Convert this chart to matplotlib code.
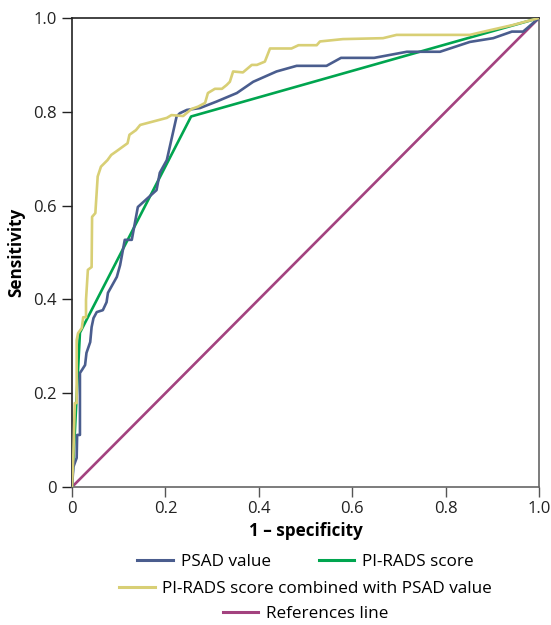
import matplotlib
matplotlib.use("Agg")
import matplotlib.pyplot as plt
from matplotlib.lines import Line2D

plt.rcParams['font.family'] = ['Open Sans', 'DejaVu Sans']

# PSAD value ROC curve
psad_fpr = [0, 0.003, 0.010, 0.011, 0.017, 0.017, 0.021, 0.028, 0.031, 0.039, 0.042, 0.046,
            0.053, 0.066, 0.074, 0.077, 0.096, 0.103, 0.113, 0.128, 0.141, 0.181, 0.188, 0.203,
            0.224, 0.231, 0.246, 0.274, 0.310, 0.353, 0.388, 0.438, 0.481, 0.545, 0.576, 0.647,
            0.717, 0.788, 0.852, 0.902, 0.942, 0.966, 1.0]
psad_tpr = [0, 0.043, 0.062, 0.111, 0.111, 0.243, 0.249, 0.260, 0.286, 0.309, 0.341, 0.360,
            0.373, 0.377, 0.394, 0.414, 0.448, 0.473, 0.527, 0.527, 0.597, 0.633, 0.670, 0.697,
            0.790, 0.797, 0.804, 0.808, 0.822, 0.840, 0.864, 0.886, 0.898, 0.898, 0.915, 0.915,
            0.928, 0.928, 0.949, 0.957, 0.971, 0.971, 1.0]

# PI-RADS score ROC curve
pirads_fpr = [0, 0.017, 0.255, 1.0]
pirads_tpr = [0, 0.329, 0.790, 1.0]

# PI-RADS combined with PSAD ROC curve
comb_fpr = [0, 0.003, 0.006, 0.010, 0.010, 0.013, 0.021, 0.024, 0.030, 0.030, 0.034, 0.042,
            0.043, 0.050, 0.055, 0.062, 0.076, 0.084, 0.094, 0.119, 0.123, 0.137, 0.146, 0.203,
            0.213, 0.238, 0.256, 0.270, 0.285, 0.291, 0.306, 0.321, 0.331, 0.338, 0.345, 0.366,
            0.385, 0.396, 0.413, 0.424, 0.470, 0.485, 0.524, 0.531, 0.580, 0.666, 0.695, 0.852,
            0.895, 0.944, 1.0]
comb_tpr = [0, 0.072, 0.179, 0.179, 0.313, 0.328, 0.339, 0.362, 0.362, 0.399, 0.463, 0.469,
            0.576, 0.584, 0.662, 0.683, 0.697, 0.708, 0.715, 0.733, 0.751, 0.761, 0.772, 0.787,
            0.793, 0.791, 0.806, 0.811, 0.819, 0.840, 0.849, 0.849, 0.857, 0.864, 0.886, 0.884,
            0.900, 0.900, 0.907, 0.935, 0.935, 0.942, 0.942, 0.950, 0.955, 0.957, 0.964, 0.964,
            0.974, 0.985, 1.0]

# Reference line
ref_x = [0, 1]
ref_y = [0, 1]

ticks = [0, 0.2, 0.4, 0.6, 0.8, 1.0]
tick_labels = ["0", "0.2", "0.4", "0.6", "0.8", "1.0"]

c_psad = "#4a5d8e"
c_pirads = "#00a54f"
c_comb = "#d8cf75"
c_ref = "#a3427f"
lw = 1.9

fig = plt.figure(figsize=(5.51, 6.25), dpi=100)
ax = fig.add_axes([72/551, 1-487/625, (539-72)/551, (487-18)/625])

ax.plot(ref_x, ref_y, color=c_ref, lw=lw, zorder=2)
ax.plot(pirads_fpr, pirads_tpr, color=c_pirads, lw=lw, zorder=3)
ax.plot(psad_fpr, psad_tpr, color=c_psad, lw=lw, zorder=4)
ax.plot(comb_fpr, comb_tpr, color=c_comb, lw=lw, zorder=5)

ax.set_xlim(0, 1)
ax.set_ylim(0, 1)
ax.set_xticks(ticks)
ax.set_xticklabels(tick_labels)
ax.set_yticks(ticks)
ax.set_yticklabels(tick_labels)
ax.tick_params(direction='out', length=7, width=1, labelsize=12, colors='#222222', pad=4)
ax.tick_params(axis='x', colors='#555555', labelcolor='#222222', pad=3)
for s in ['left', 'top']:
    ax.spines[s].set_color('#222222')
for s in ['right', 'bottom']:
    ax.spines[s].set_color('#666666')
for s in ax.spines.values():
    s.set_linewidth(1.2)

ax.set_xlabel("1 – specificity", fontsize=12.3, fontweight='bold', labelpad=4)
ax.set_ylabel("Sensitivity", fontsize=12.3, fontweight='bold', labelpad=6)

def mk(c):
    return Line2D([0], [0], color=c, lw=2.2)

common = dict(frameon=False, fontsize=12.3, handlelength=2.1, handletextpad=0.45,
              borderaxespad=0, borderpad=0, loc='center')
cx = ((72+539)/2)/551
leg1 = fig.legend([mk(c_psad), mk(c_pirads)], ["PSAD value", "PI-RADS score"], ncol=2,
                  columnspacing=2.8, bbox_to_anchor=(cx, 1-562/625), **common)
leg2 = fig.legend([mk(c_comb)], ["PI-RADS score combined with PSAD value"],
                  bbox_to_anchor=(cx, 1-589/625), **common)
leg3 = fig.legend([mk(c_ref)], ["References line"],
                  bbox_to_anchor=(cx, 1-614/625), **common)

fig.savefig("out.png", dpi=100)
